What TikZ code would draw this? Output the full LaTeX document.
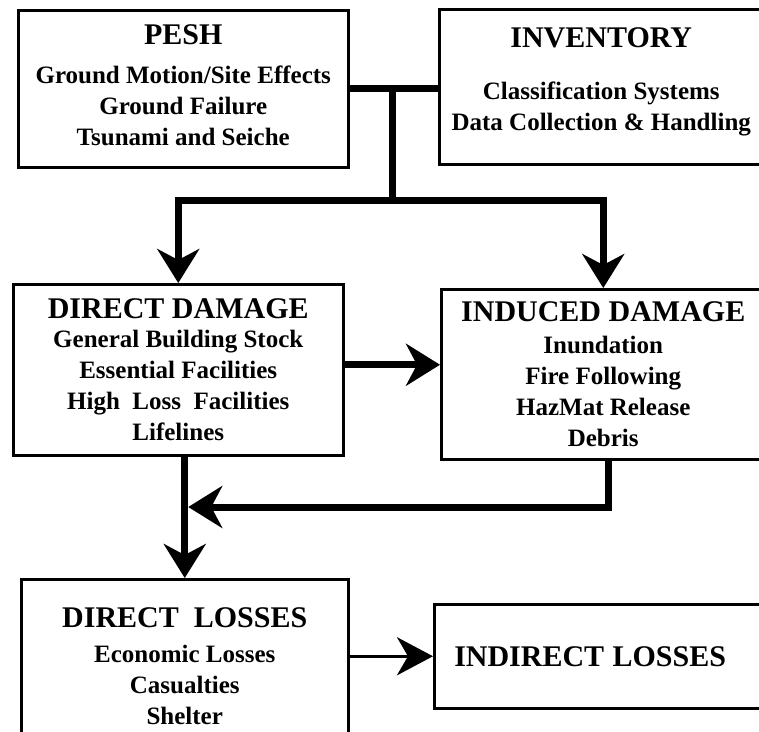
\documentclass[tikz,border=0pt]{standalone}
\usepackage{fontspec}
\setmainfont{Liberation Serif}
\usetikzlibrary{arrows.meta,calc,positioning}

\newcommand{\boxhead}[1]{{\fontsize{30}{32}\selectfont #1}}

\begin{document}
\begin{tikzpicture}[x=1pt, y=-1pt,
    box/.style={draw, line width=2.5pt, anchor=north west, align=center, inner sep=0pt,
                font=\fontsize{25}{31}\selectfont\bfseries},
    bus/.style={line width=7pt},
    flow/.style={line width=7pt, -{Stealth[length=34pt, width=42pt, inset=11pt]}},
    thin flow/.style={line width=3.5pt, -{Stealth[length=36pt, width=38pt, inset=11pt]}}]
    \useasboundingbox (0,0) rectangle (759,731);
    \clip (0,0) rectangle (759,731);

    %coordinates
    \coordinate (split) at (392,200);
    \coordinate (lvl)   at (0,507);

    %nodes
    \node[box, minimum width=330pt, minimum height=157pt] (pesh) at (17,9)
        {\boxhead{PESH}\\[8pt] Ground Motion/Site Effects\\ Ground Failure\\ Tsunami and Seiche\\[-23pt]};
    \node[box, minimum width=324pt, minimum height=155pt] (inv) at (438,8)
        {\boxhead{INVENTORY}\\[21pt] Classification Systems\\ Data Collection \& Handling\\[-15pt]};
    \node[box, minimum width=330pt, minimum height=171pt] (dd) at (12,283)
        {\boxhead{DIRECT DAMAGE}\\[-2pt] General Building Stock\\ Essential Facilities\\ High\ \ Loss\ \ Facilities\\ Lifelines};
    \node[box, minimum width=324pt, minimum height=170pt] (id) at (440,288)
        {\boxhead{INDUCED DAMAGE}\\[1pt] Inundation\\ Fire Following\\ HazMat Release\\ Debris};
    \node[box, minimum width=327pt, minimum height=174pt] (dl) at (20,578)
        {\boxhead{DIRECT\ \ LOSSES}\\[4pt] Economic Losses\\ Casualties\\ Shelter};
    \node[box, text width=300pt, inner xsep=20pt, align=left, minimum height=104pt] (il) at (433,603)
        {\boxhead{INDIRECT LOSSES}};

    \coordinate (merge) at ($(dl.north |- lvl) + (3.5,0)$);

    %edges
    \draw[bus] (pesh.east) -- (pesh.east -| inv.west);
    \draw[bus] (split |- pesh.east) -- (split);
    \draw[flow] (split) -| (dd.north);
    \draw[flow] (split) -| (id.north);

    \draw[flow] ([yshift=5pt]dd.east) -- ([yshift=5pt]dd.east -| id.west);
    \draw[flow] (dd.south -| dl.north) -- (dl.north);
    \draw[flow] ([xshift=5pt]id.south) |- (merge);

    \draw[thin flow] (il.west -| dl.east) -- (il.west);
\end{tikzpicture}
\end{document}
